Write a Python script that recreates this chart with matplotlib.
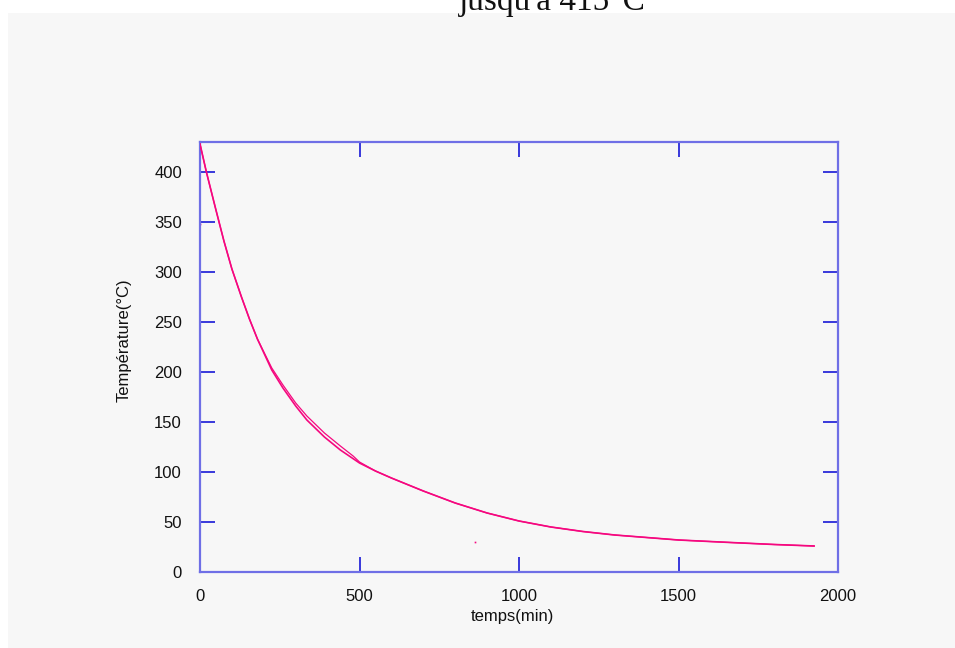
import matplotlib
matplotlib.use("Agg")
import matplotlib.pyplot as plt
from matplotlib.patches import Rectangle

# Data
t_meas = [0, 20, 50, 75, 100, 130, 155, 180, 225, 260, 300, 335, 390, 440, 500, 550,
          600, 700, 800, 900, 1000, 1100, 1200, 1300, 1400, 1500, 1650, 1800, 1925]
T_meas = [428, 400, 362, 331, 303, 275, 253, 233, 202, 184, 166, 152, 135, 122, 109, 101,
          94, 81, 69, 59, 51, 45, 40.5, 37, 34.5, 32, 29.7, 27.5, 26]

t_fit = [0, 20, 50, 75, 100, 130, 155, 180, 225, 260, 300, 335, 390, 440, 480, 500, 550,
         600, 700, 800, 900, 1000, 1100, 1200, 1300, 1400, 1500, 1650, 1800, 1925]
T_fit = [428, 400, 362, 331, 303, 275, 253, 233, 204, 187, 169, 156, 139, 126, 116, 110, 101,
         94, 81, 69, 59, 51, 45, 40.5, 37, 34.5, 32, 29.7, 27.5, 26]

t_stray = [0, 862]
T_stray = [348, 30]

x_ticks = [0, 500, 1000, 1500, 2000]
y_ticks = [0, 50, 100, 150, 200, 250, 300, 350, 400]

W, H = 955, 648
fig = plt.figure(figsize=(W / 100, H / 100), dpi=100, facecolor="white")

bg = "#f7f7f7"
fig.patches.append(Rectangle((8 / W, 0), 1 - 8 / W, 1 - 13 / H, transform=fig.transFigure,
                             facecolor=bg, edgecolor="none", zorder=-10))

ax = fig.add_axes([200 / W, 1 - 572 / H, 638 / W, (572 - 141.5) / H])
ax.set_facecolor(bg)

curve = "#f5087f"
ax.plot(t_meas, T_meas, color=curve, lw=1.2, zorder=3)
ax.plot(t_fit, T_fit, color=curve, lw=0.9, zorder=3)
ax.plot(t_stray, T_stray, linestyle="none", marker="s", ms=1.2, color=curve, mec="none")

ax.set_xlim(0, 2000)
ax.set_ylim(0, 430.5)
ax.set_xticks(x_ticks)
ax.set_yticks(y_ticks)

spine_c = "#6f6fe6"
for s in ax.spines.values():
    s.set_color(spine_c)
    s.set_linewidth(1.6)

ax.tick_params(direction="in", length=11, width=1.3, color="#2a2ad8",
               top=True, right=True, labelsize=12, labelcolor="#111111",
               labelfontfamily="Liberation Sans")
ax.tick_params(axis="y", pad=13)
ax.tick_params(axis="x", pad=12)

fig.text(512 / W, 1 - 617 / H, "temps(min)", ha="center", va="center",
         fontsize=12, family="Liberation Sans", color="#111111")
fig.text(124.5 / W, 1 - 340 / H, "Température(°C)", ha="center", va="center",
         rotation=90, fontsize=12, family="Liberation Sans", color="#111111")

fig.text(552 / W, 1 - 10 / H, "jusqu'à 415°C", ha="center", va="baseline",
         fontsize=24, family="Liberation Serif", color="#111111")

fig.savefig("out.png", dpi=100, facecolor="white")
